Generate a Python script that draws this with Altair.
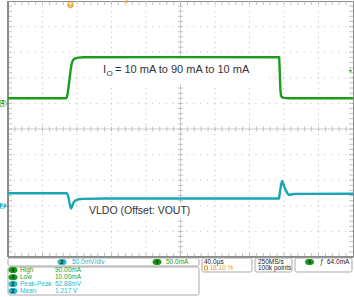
import altair as alt
import pandas as pd

time_range = [-72.4, 327.6]      # µs : 10 div x 40 µs/div, trigger at 18.10 % of record
time_div = 40.0

# CH4 : load current (mA), 50 mA/div
cur_t = [-72.4, -5.2, -4.0, -3.0, -2.0, -1.0, 0.0, 1.0, 2.0, 3.0, 4.5, 6.5, 9.0, 15.0, 120.0,
         242.0, 242.5, 243.0, 243.5, 244.2, 245.5, 247.5, 252.0, 327.6]
cur_ma = [10.0, 10.0, 13.0, 22.0, 35.0, 48.0, 62.0, 74.0, 81.0, 84.5, 87.0, 88.5, 89.5, 90.0, 90.3,
          90.0, 70.0, 45.0, 25.0, 15.0, 12.0, 10.8, 10.2, 10.0]
cur_domain = [-300, 200]         # ch4 ground marker 1 div above centre
trigger_level_ma = 64.0

# CH2 : LDO output voltage (mV above offset), 50 mV/div
volt_t = [-72.4, -4.3, -3.0, -2.0, -1.0, 0.0, 0.6, 1.5, 2.5, 4.1, 6.0, 9.1, 15.0, 40.0,
          241.8, 243.0, 244.3, 245.3, 246.5, 248.0, 250.0, 252.0, 253.5, 256.0, 260.0, 327.6]
volt_mv = [24.5, 24.5, 21.0, 14.0, 5.0, -2.0, -5.0, -3.0, 2.0, 8.0, 10.5, 12.7, 13.5, 14.2,
           14.3, 28.0, 42.0, 48.0, 44.0, 37.0, 29.0, 23.0, 21.0, 22.0, 23.3, 23.5]
volt_domain = [-100, 400]        # ch2 offset marker 3 div below centre

annot_i_main = "I"
annot_i_sub = "O"
annot_i_rest = "= 10 mA to 90 mA to 10 mA"
annot_v = "VLDO (Offset: VOUT)"

meas_channels = ["4", "4", "2", "2"]
meas_labels = ["High", "Low", "Peak-Peak", "Mean"]
meas_values = ["90.00mA", "10.00mA", "52.88mV", "1.217 V"]
ch2_scale = "50.0mV/div"
ch4_scale = "50.0mA"
timebase = "40.0µs"
trig_pos = "18.10 %"
samp_rate = "250MS/s"
rec_len = "100k points"
trig_edge = "ƒ"
trig_text = "64.0mA"

# ---------------- styling ----------------
GREEN = "#1c9c1c"
CYAN = "#19a6b4"
CYAN_T = "#2cb8c8"
GREEN_T = "#1e9a1e"
ORANGE = "#f0a028"
GRID = "#bcbcbc"
AXIS = "#a8a8a8"
BORDER = "#8c8c8c"
DARK = "#222222"
FONT = "Liberation Sans"
W, H = 345, 256

t0, t1 = time_range
xs = alt.Scale(domain=time_range, nice=False, zero=False)
ds = alt.Scale(domain=[-5, 5], nice=False, zero=False)
cs = alt.Scale(domain=cur_domain, nice=False, zero=False)
vs = alt.Scale(domain=volt_domain, nice=False, zero=False)


def X(f):
    return alt.X(f, type="quantitative", scale=xs, axis=None)


def Yd(f):
    return alt.Y(f, type="quantitative", scale=ds, axis=None)


one = pd.DataFrame({"a": [0]})

# ---------------- graticule ----------------
div_t = [t0 + k * time_div for k in range(11)]
t_center = div_t[5]
vgrid = pd.DataFrame({"t": [v for i, v in enumerate(div_t) if i not in (0, 5, 10)]})
hgrid = pd.DataFrame({"d": [-4, -3, -2, -1, 1, 2, 3, 4]})
minor_t = [t0 + 8.0 * k for k in range(1, 50)]
minor_d = [-5 + 0.2 * k for k in range(1, 50)]
tx = pd.DataFrame({"t": minor_t, "c": 0.0, "top": 5.0, "bot": -5.0})
ty = pd.DataFrame({"d": minor_d, "c": t_center, "l": t0, "r": t1})

layers = []
layers.append(alt.Chart(vgrid).mark_rule(color=GRID, strokeDash=[1, 4.12]).encode(x=X("t")))
layers.append(alt.Chart(hgrid).mark_rule(color=GRID, strokeDash=[1, 5.9]).encode(y=Yd("d")))
layers.append(alt.Chart(pd.DataFrame({"t": [t_center]})).mark_rule(color="#cfcfcf").encode(x=X("t")))
layers.append(alt.Chart(pd.DataFrame({"d": [0.0]})).mark_rule(color="#cfcfcf").encode(y=Yd("d")))
layers.append(alt.Chart(tx).mark_tick(orient="vertical", size=5, thickness=1, color=AXIS)
              .encode(x=X("t"), y=Yd("c")))
layers.append(alt.Chart(tx).mark_tick(orient="vertical", size=4, thickness=1, color=AXIS, yOffset=2)
              .encode(x=X("t"), y=Yd("top")))
layers.append(alt.Chart(tx).mark_tick(orient="vertical", size=4, thickness=1, color=AXIS, yOffset=-2)
              .encode(x=X("t"), y=Yd("bot")))
layers.append(alt.Chart(ty).mark_tick(orient="horizontal", size=5, thickness=1, color=AXIS)
              .encode(x=X("c"), y=Yd("d")))
layers.append(alt.Chart(ty).mark_tick(orient="horizontal", size=4, thickness=1, color=AXIS, xOffset=2)
              .encode(x=X("l"), y=Yd("d")))
layers.append(alt.Chart(ty).mark_tick(orient="horizontal", size=4, thickness=1, color=AXIS, xOffset=-2)
              .encode(x=X("r"), y=Yd("d")))
# heavier left and bottom frame edges
layers.append(alt.Chart(pd.DataFrame({"t": [t0]})).mark_rule(color="#8a8a8a", strokeWidth=2)
              .encode(x=X("t")))
layers.append(alt.Chart(pd.DataFrame({"d": [-5.0]})).mark_rule(color="#8a8a8a", strokeWidth=2)
              .encode(y=Yd("d")))

# white label backgrounds
layers.append(alt.Chart(one).mark_rect(fill="white").encode(
    x=alt.value(92), x2=alt.value(258), y=alt.value(58), y2=alt.value(83)))
layers.append(alt.Chart(one).mark_rect(fill="white").encode(
    x=alt.value(78), x2=alt.value(186), y=alt.value(202), y2=alt.value(217)))

# ---------------- traces ----------------
cur_df = pd.DataFrame({"t": cur_t, "ma": cur_ma})
volt_df = pd.DataFrame({"t": volt_t, "mv": volt_mv})
layers.append(alt.Chart(volt_df).mark_line(color=CYAN, strokeWidth=2.4, strokeJoin="round")
              .encode(x=X("t"), y=alt.Y("mv:Q", scale=vs, axis=None)))
layers.append(alt.Chart(cur_df).mark_line(color=GREEN, strokeWidth=2.4, strokeJoin="round")
              .encode(x=X("t"), y=alt.Y("ma:Q", scale=cs, axis=None)))

# annotations
txt = dict(font=FONT, color="#333333", align="left", baseline="alphabetic")
layers.append(alt.Chart(one).mark_text(text=annot_i_main, fontSize=11, **txt)
              .encode(x=alt.value(95), y=alt.value(72.3)))
layers.append(alt.Chart(one).mark_text(text=annot_i_sub, fontSize=8, **txt)
              .encode(x=alt.value(98.5), y=alt.value(74.5)))
layers.append(alt.Chart(one).mark_text(text=annot_i_rest, fontSize=11, **txt)
              .encode(x=alt.value(107), y=alt.value(72.3)))
layers.append(alt.Chart(one).mark_text(text=annot_v, fontSize=10.5, **txt)
              .encode(x=alt.value(81), y=alt.value(213)))

# channel / trigger markers
tag = "M-1,-0.8H0.3L1,0L0.3,0.8H-1Z"
layers.append(alt.Chart(pd.DataFrame({"y": [0.0]})).mark_point(
    shape=tag, filled=False, stroke=GREEN, strokeWidth=1, size=49)
    .encode(x=alt.value(-4.5), y=alt.Y("y:Q", scale=cs, axis=None)))
layers.append(alt.Chart(pd.DataFrame({"y": [0.0]})).mark_text(
    text="4", font=FONT, fontSize=6.5, color=GREEN, fontWeight="bold")
    .encode(x=alt.value(-5.5), y=alt.Y("y:Q", scale=cs, axis=None)))
layers.append(alt.Chart(pd.DataFrame({"y": [0.0]})).mark_point(
    shape=tag, filled=True, fill=CYAN_T, strokeWidth=0, size=49, opacity=1)
    .encode(x=alt.value(-4.5), y=alt.Y("y:Q", scale=vs, axis=None)))
layers.append(alt.Chart(pd.DataFrame({"y": [0.0]})).mark_text(
    text="2", font=FONT, fontSize=6.5, color="white", fontWeight="bold")
    .encode(x=alt.value(-5.5), y=alt.Y("y:Q", scale=vs, axis=None)))
layers.append(alt.Chart(pd.DataFrame({"t": [t1], "ma": [trigger_level_ma]})).mark_point(
    shape="triangle-left", filled=True, color=GREEN, size=10, xOffset=-3, opacity=1)
    .encode(x=X("t"), y=alt.Y("ma:Q", scale=cs, axis=None)))
layers.append(alt.Chart(pd.DataFrame({"t": [0.0]})).mark_point(
    shape="M-1,-1H1V0.3L0,1L-1,0.3Z", filled=True, fill=ORANGE, strokeWidth=0, size=36, opacity=1)
    .encode(x=X("t"), y=alt.value(4.5)))
layers.append(alt.Chart(pd.DataFrame({"t": [0.0]})).mark_text(
    text="T", font=FONT, fontSize=5.5, color="white", fontWeight="bold")
    .encode(x=X("t"), y=alt.value(4)))
layers.append(alt.Chart(one).mark_point(shape="square", filled=True, color=ORANGE, size=5, opacity=1)
              .encode(x=alt.value(119), y=alt.value(0.5)))

# ---------------- status bar ----------------
boxes = pd.DataFrame({
    "x": [0, 0, 194, 247, 287],
    "x2": [191, 191, 244, 284, 344],
    "y": [257, 266, 257, 257, 257],
    "y2": [265, 294, 271, 271, 271],
})
layers.append(alt.Chart(boxes).mark_rect(fill="white", stroke="#a9a9a9", strokeWidth=1, cornerRadius=2)
              .encode(x=alt.X("x:Q", scale=None), x2="x2:Q", y=alt.Y("y:Q", scale=None), y2="y2:Q"))

row_y = [269, 276.3, 283, 290]
ch_fill = {"4": GREEN, "2": CYAN_T}
ch_text = {"4": GREEN_T, "2": CYAN_T}
badges = pd.DataFrame({
    "bx": [54, 149, 301.5] + [5] * 4,
    "by": [261, 261, 261] + row_y,
    "num": ["2", "4", "4"] + meas_channels,
})
badges["fill"] = badges["num"].map(ch_fill)
badges["x"] = badges["bx"] - 4.5
badges["x2"] = badges["bx"] + 4.5
badges["y"] = badges["by"] - 3
badges["y2"] = badges["by"] + 3
layers.append(alt.Chart(badges).mark_rect(cornerRadius=3).encode(
    x=alt.X("x:Q", scale=None), x2="x2:Q", y=alt.Y("y:Q", scale=None), y2="y2:Q",
    fill=alt.Fill("fill:N", scale=None)))
layers.append(alt.Chart(badges).mark_text(font=FONT, fontSize=6, color="#0b2a0b", fontWeight="bold")
              .encode(x=alt.X("bx:Q", scale=None), y=alt.Y("by:Q", scale=None), text="num:N"))

rows = []
rows += [(64, 261, ch2_scale, CYAN_T), (158, 261, ch4_scale, GREEN_T)]
for ch, lab, val, yy in zip(meas_channels, meas_labels, meas_values, row_y):
    rows += [(12, yy, lab, ch_text[ch]), (47, yy, val, ch_text[ch])]
rows += [(196, 261, timebase, DARK), (201.5, 267, trig_pos, ORANGE),
         (250, 261, samp_rate, DARK), (250, 267, rec_len, DARK),
         (312, 261, trig_edge, DARK), (319, 261, trig_text, DARK)]
status = pd.DataFrame(rows, columns=["px", "py", "txt", "col"])
layers.append(alt.Chart(status).mark_text(font=FONT, fontSize=6.5, align="left", baseline="middle")
              .encode(x=alt.X("px:Q", scale=None), y=alt.Y("py:Q", scale=None), text="txt:N",
                      color=alt.Color("col:N", scale=None)))
layers.append(alt.Chart(one).mark_rect(fill="white", stroke=ORANGE, strokeWidth=1).encode(
    x=alt.value(196.5), x2=alt.value(199.5), y=alt.value(265), y2=alt.value(269)))

chart = alt.layer(*layers).resolve_scale(x="independent", y="independent").properties(
    width=W, height=H,
    padding={"left": 8, "top": 1, "right": 1, "bottom": 40},
    autosize=alt.AutoSizeParams(type="none"),
    background="white",
).configure_view(stroke=BORDER, strokeWidth=1)

chart.save("out.html", embed_options={"renderer": "svg", "actions": False})
